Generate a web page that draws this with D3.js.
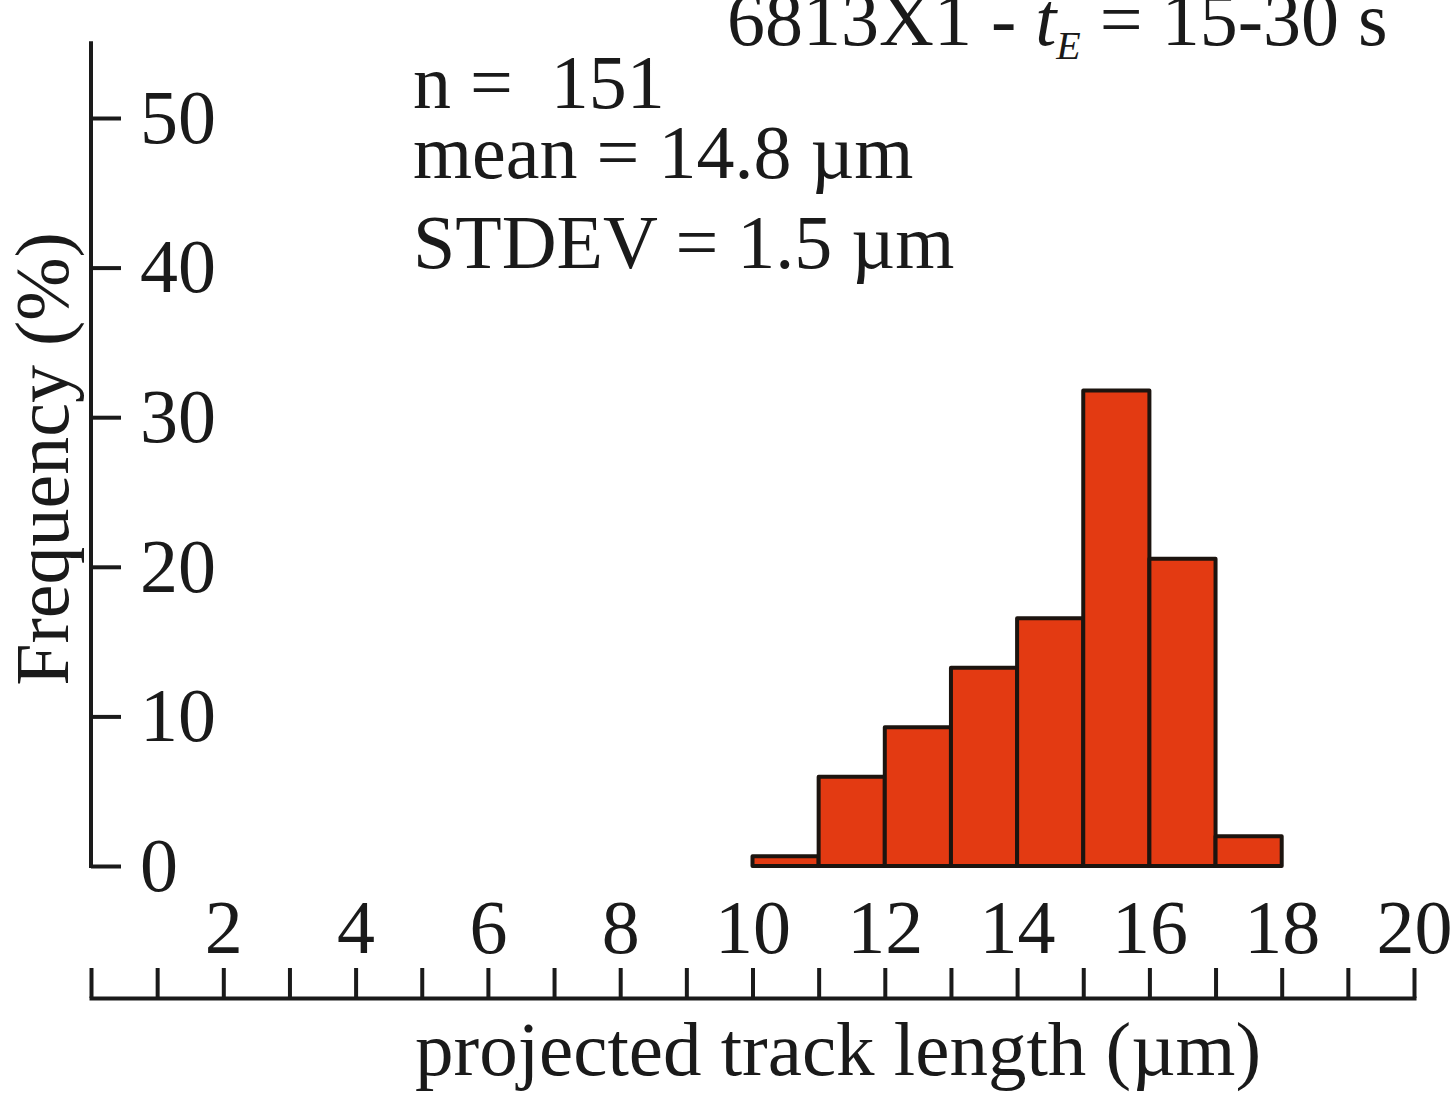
<!DOCTYPE html>
<html>
<head>
<meta charset="utf-8">
<script src="https://cdn.jsdelivr.net/npm/d3@7"></script>
<style>
  html, body { margin: 0; padding: 0; background: #fff; }
  text { font-family: "Liberation Serif", "Times New Roman", serif; fill: #1a1a1a; }
</style>
</head>
<body>
<div id="vis"></div>
<script>
// histogram data
var binStart = [10, 11, 12, 13, 14, 15, 16, 17];
var binEnd = [11, 12, 13, 14, 15, 16, 17, 18];
var frequency = [0.66, 5.96, 9.27, 13.25, 16.56, 31.79, 20.53, 1.99];

var yTicks = [0, 10, 20, 30, 40, 50];
var xTicks = d3.range(0, 21);
var xLabels = [2, 4, 6, 8, 10, 12, 14, 16, 18, 20];

var statLines = ["n =  151", "mean = 14.8 \u00b5m", "STDEV = 1.5 \u00b5m"];

var width = 1454;
var height = 1098;
var FONT = 76;
var INK = "#1a1a1a";

var svg = d3.select("#vis")
  .append("svg")
  .attr("width", width)
  .attr("height", height);

// scales
var x = d3.scaleLinear().domain([0, 20]).range([91, 1414]);
var y = d3.scaleLinear().domain([0, 55]).range([866, 43.2]);

// bars
svg.append("g")
  .selectAll("rect")
  .data(frequency)
  .enter().append("rect")
  .attr("x", function(d, i) { return x(binStart[i]); })
  .attr("width", function(d, i) { return x(binEnd[i]) - x(binStart[i]); })
  .attr("y", function(d) { return y(d); })
  .attr("height", function(d) { return y(0) - y(d); })
  .attr("fill", "#e33a12")
  .attr("stroke", "#1c140f")
  .attr("stroke-width", 4)
  .attr("stroke-linejoin", "round");

// y axis, ticks pointing into the plot
var yAxis = svg.append("g")
  .attr("transform", "translate(" + x(0) + ",0)")
  .call(d3.axisRight(y).tickValues(yTicks).tickSize(30).tickSizeOuter(0).tickPadding(19));

// x axis sits below the chart with upward ticks
var xAxis = svg.append("g")
  .attr("transform", "translate(0,998)")
  .call(d3.axisTop(x).tickValues(xTicks).tickSize(30).tickSizeOuter(0).tickPadding(15)
    .tickFormat(function(d) { return xLabels.indexOf(d) >= 0 ? d : ""; }));

xAxis.selectAll("text").attr("dy", "0em");

[yAxis, xAxis].forEach(function(ax) {
  ax.select(".domain").attr("stroke", INK).attr("stroke-width", 4).attr("stroke-linecap", "square");
  ax.selectAll(".tick line").attr("stroke", INK).attr("stroke-width", 4);
  ax.selectAll("text")
    .attr("font-family", "Liberation Serif, Times New Roman, serif")
    .attr("font-size", FONT)
    .attr("fill", INK);
});

// y axis line continues above the last tick
yAxis.select(".domain").attr("d", "M0," + y(0) + "V" + y(55));

// axis titles
svg.append("text")
  .attr("transform", "translate(68,459) rotate(-90)")
  .attr("text-anchor", "middle")
  .attr("font-size", FONT)
  .text("Frequency (%)");

svg.append("text")
  .attr("x", 415)
  .attr("y", 1075)
  .attr("font-size", 77)
  .text("projected track length (\u00b5m)");

// stats block
svg.append("g")
  .selectAll("text")
  .data(statLines)
  .enter().append("text")
  .attr("x", 413)
  .attr("y", function(d, i) { return [108, 178, 268][i]; })
  .attr("font-size", FONT)
  .style("white-space", "pre")
  .text(function(d) { return d; });

// sample title, partly cut by the top edge
var title = svg.append("text")
  .attr("x", 727)
  .attr("y", 45)
  .attr("font-size", FONT)
  .style("white-space", "pre");
title.append("tspan").text("6813X1 - ");
title.append("tspan").attr("font-style", "italic").text("t");
title.append("tspan").attr("font-style", "italic").attr("font-size", 40).attr("dy", 14).text("E");
title.append("tspan").attr("dy", -14).text(" = 15-30 s");
</script>
</body>
</html>
